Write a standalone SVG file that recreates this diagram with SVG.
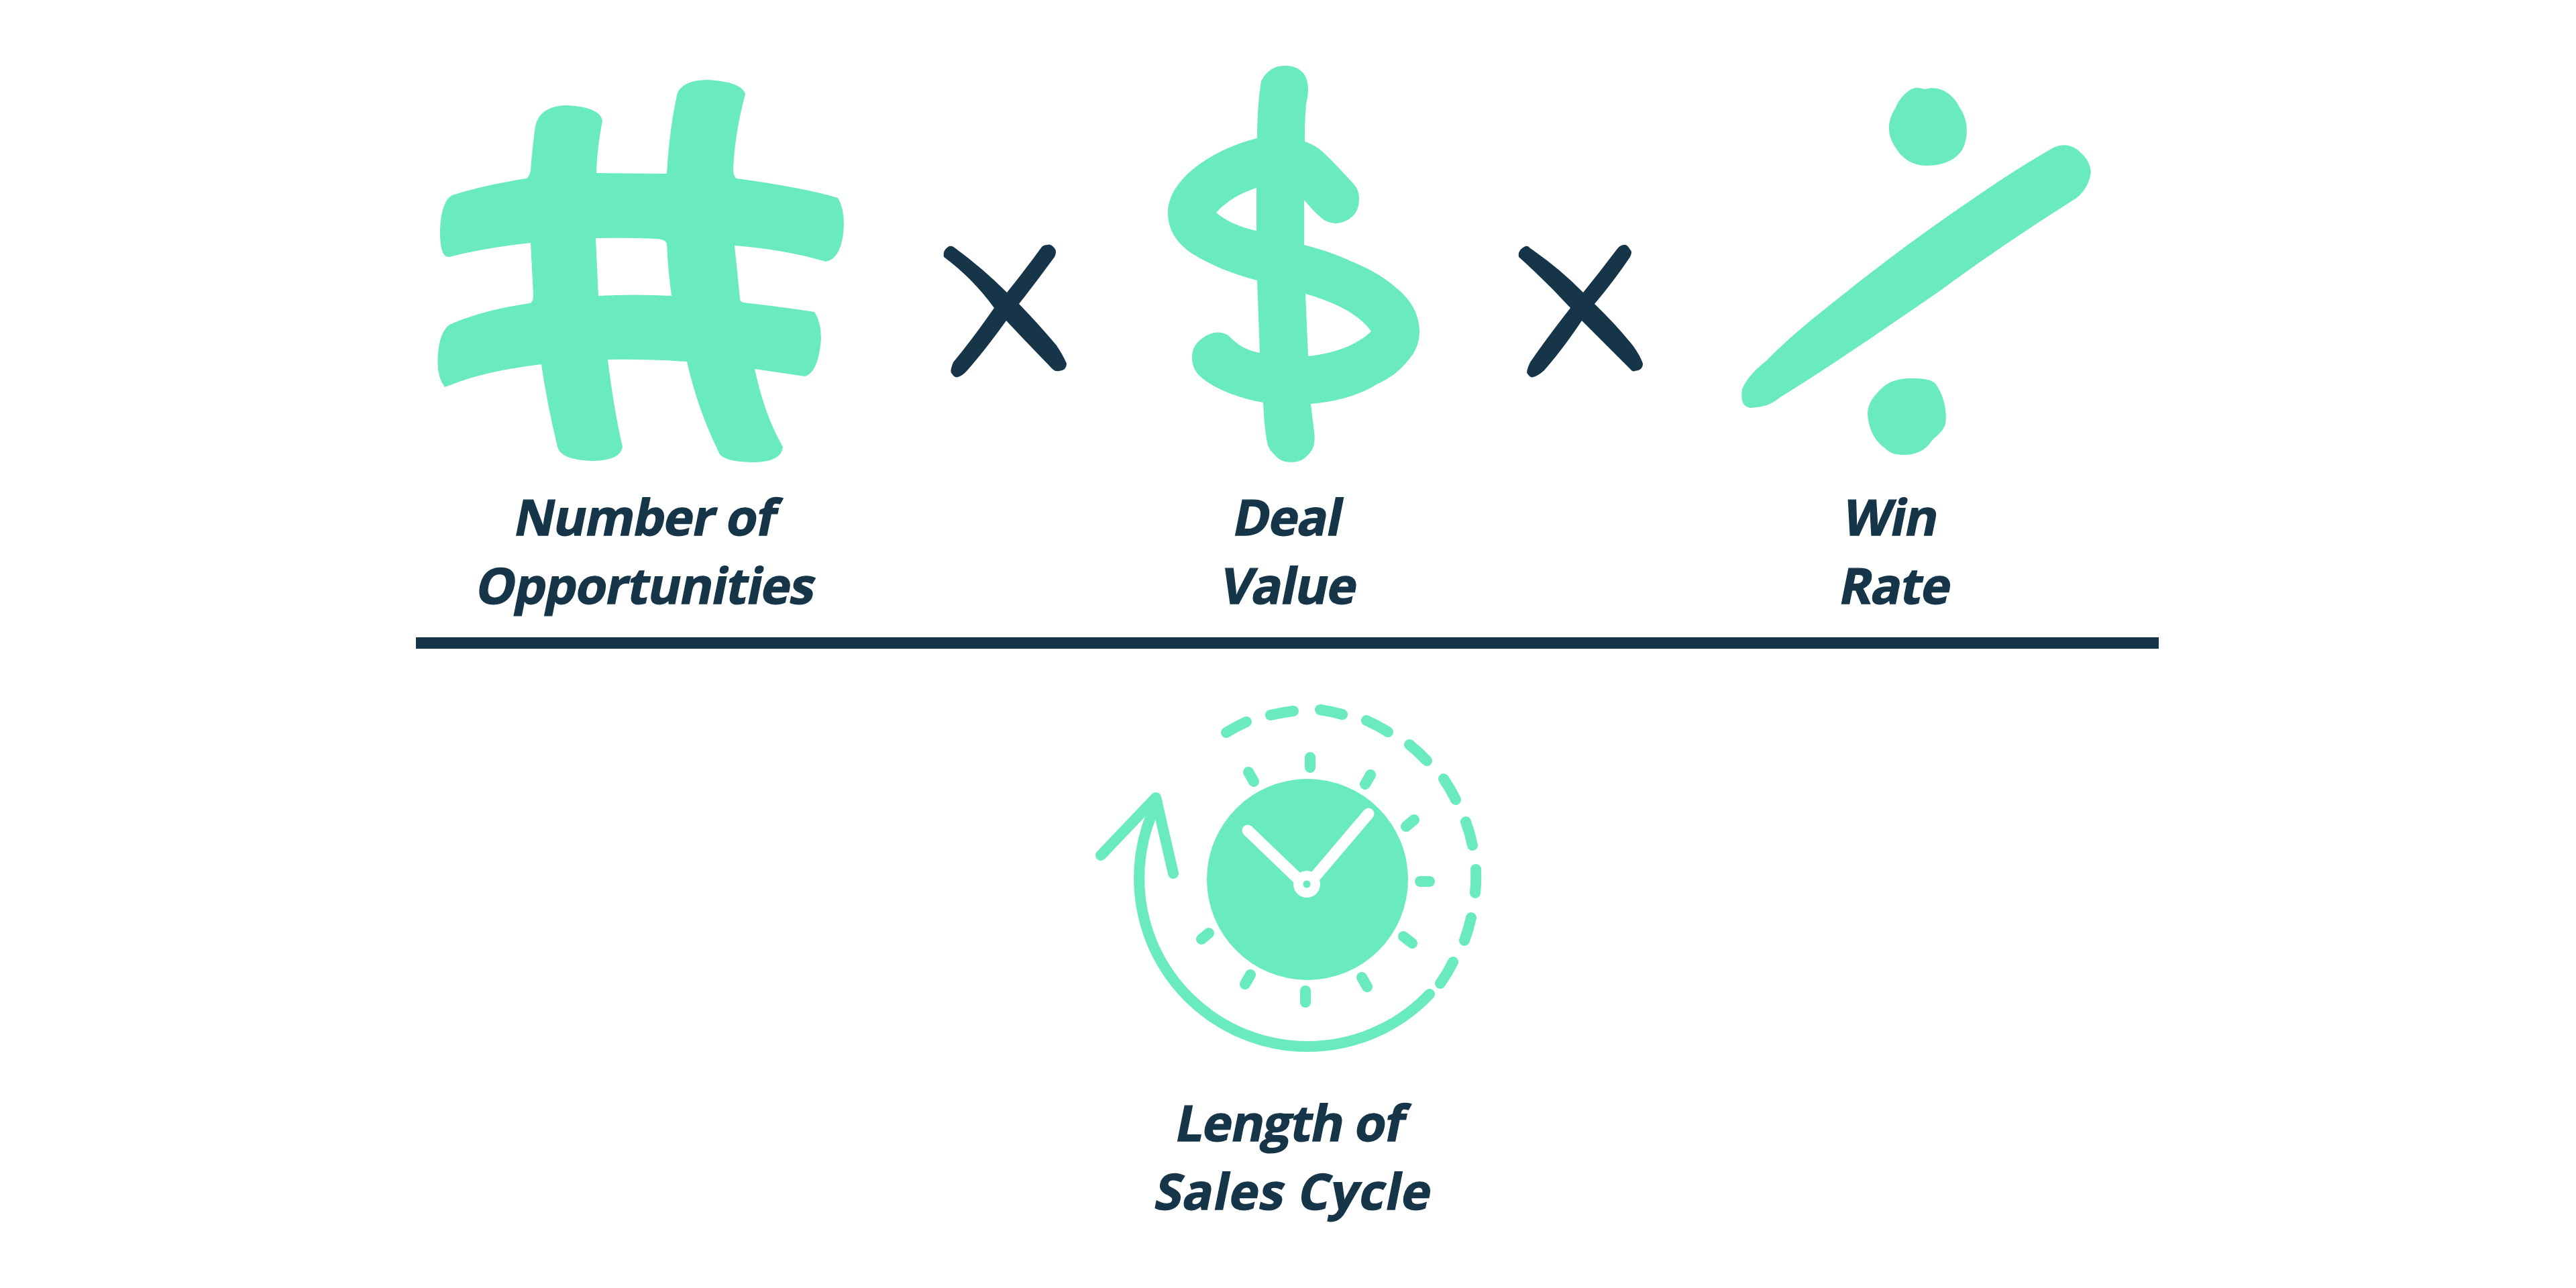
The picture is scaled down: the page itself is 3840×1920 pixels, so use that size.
<svg xmlns="http://www.w3.org/2000/svg" width="3840" height="1920" viewBox="0 0 3840 1920">
<style>
.t{fill:#6AEBBE}
.n{fill:#163549}
.l{font-family:"Open Sans",sans-serif;font-weight:700;font-size:74px;letter-spacing:-1.2px;fill:#163549;stroke:#163549;stroke-width:1.4px;text-anchor:middle}
.s{fill:none;stroke:#6AEBBE;stroke-width:16;stroke-linecap:round;stroke-linejoin:round}
.h{fill:none;stroke:#fff;stroke-width:17;stroke-linecap:round}
</style>
<rect width="3840" height="1920" fill="#fff"/>
<g id="hash"><path class="t" fill-rule="evenodd" d="M798 188Q805 157 846 157Q895 160 898 180Q890 220 889 258L994 259Q998 190 1010 138Q1020 119 1056 119Q1105 122 1111 140Q1095 200 1093 254Q1094 264 1098 266Q1200 280 1249 295Q1258 310 1258 335Q1256 385 1231 390Q1170 372 1095 366L1103 445Q1103 450 1108 451Q1170 458 1214 465Q1224 480 1224 505Q1220 555 1200 561L1125 550Q1140 620 1167 666Q1165 690 1119 689Q1075 688 1071 673Q1040 610 1024 539Q960 535 906 536Q915 610 928 666Q925 687 881 687Q835 685 831 666Q815 600 807 543Q725 553 674 573L663 577Q650 560 653 528Q655 495 670 484Q720 462 790 452Q795 450 795 440L791 362Q720 370 670 383Q655 385 656 341Q658 300 674 291Q720 276 785 266Q790 262 791 254Q794 215 798 188ZM888 355Q940 354 979 356Q993 357 994 364Q996 405 1001 441Q945 438 892 441Z"/></g>
<g id="times-1"><path class="n" d="M1415 367Q1405 372 1407 383Q1450 415 1482 459Q1450 505 1421 540Q1415 555 1419 557Q1423 564 1428 562Q1435 560 1442 552Q1470 520 1500 478Q1530 510 1565 546Q1572 555 1579 553Q1590 552 1590 542Q1585 530 1575 515Q1550 485 1519 453Q1545 420 1572 383Q1576 375 1572 370Q1566 363 1561 365Q1556 365 1553 368Q1530 400 1501 436Q1465 400 1424 370Q1420 366 1415 367Z"/></g>
<g id="dollar"><path class="t" fill-rule="evenodd" d="M1916 98C1935 98 1945 108 1948 119C1952 135 1949 145 1947 155C1945 180 1945 195 1945 211C1958 216 1965 220 1970 225C1985 238 2000 255 2013 269C2022 278 2026 285 2026 296C2026 312 2020 320 2013 325C1998 336 1982 335 1970 325C1960 317 1952 307 1944 298L1944 365C1970 372 1995 380 2013 389C2045 402 2065 415 2080 428C2105 448 2116 470 2116 495C2116 510 2110 525 2100 536C2088 552 2072 564 2052 573C2025 590 1990 599 1954 602L1959 644C1961 660 1958 670 1951 677C1943 686 1935 689 1925 689C1915 689 1907 686 1901 679C1895 673 1890 667 1889 660C1885 640 1884 620 1883 600C1865 597 1848 592 1832 586C1815 579 1800 571 1789 561C1780 552 1777 543 1777 532C1777 518 1784 510 1794 503C1806 494 1820 493 1831 500C1845 515 1860 523 1878 526L1874 418C1835 408 1800 393 1774 376C1752 360 1741 340 1741 318C1741 295 1753 275 1774 256C1800 233 1835 216 1874 206C1874 175 1876 145 1880 121C1888 105 1900 98 1916 98ZM1873 280C1848 288 1828 300 1813 317C1828 330 1850 339 1873 344ZM1946 438L1950 531C1990 527 2025 513 2044 494C2028 470 1990 450 1946 438Z"/></g>
<g id="times-2"><path class="n" d="M2274 367Q2262 372 2264 383Q2305 420 2341 459Q2305 505 2281 540Q2274 555 2277 557Q2281 564 2286 562Q2293 560 2302 552Q2330 520 2358 478Q2395 515 2430 550Q2434 555 2437 553Q2449 552 2449 542Q2445 530 2434 515Q2410 485 2377 453Q2405 420 2430 383Q2434 375 2430 372Q2425 363 2420 365Q2414 366 2410 372Q2385 405 2360 436Q2325 400 2281 370Q2278 366 2274 367Z"/></g>
<g id="percent"><path class="t" d="M2826 160C2832 145 2848 129 2860 131L2870 133C2890 126 2912 140 2921 160C2932 175 2934 195 2930 210C2925 235 2900 247 2872 247C2850 247 2835 235 2827 222C2815 205 2810 185 2826 160Z"/><path class="t" d="M2807 577C2820 566 2835 564 2850 564C2870 564 2880 566 2886 573C2898 590 2903 615 2900 632C2896 645 2885 650 2879 658C2870 672 2855 678 2840 678C2825 678 2818 676 2810 668C2790 655 2784 630 2784 615C2785 600 2795 588 2807 577Z"/><path class="t" d="M3056 223C3073 212 3090 215 3102 228C3116 240 3118 255 3116 262C3112 278 3105 288 3094 296C3020 343 2955 387 2894 432C2810 490 2730 545 2654 592C2640 603 2632 606 2611 608C2600 608 2594 600 2597 580C2605 562 2618 550 2635 536C2670 500 2705 473 2740 445C2790 405 2840 367 2894 329C2950 290 3000 255 3056 223Z"/></g>
<rect id="bar" class="n" x="620" y="950" width="2598" height="17"/>
<g id="clock">
<circle class="t" cx="1949" cy="1311" r="150"/>
<path class="h" d="M1860 1238L1935 1310M2040 1213L1961 1306"/>
<circle cx="1948" cy="1318" r="20" fill="#fff"/><circle class="t" cx="1948" cy="1318" r="5.5"/>
<path class="s" d="M1953 1129V1144M1861 1151L1869 1165M2043 1155L2035 1169M2108 1222L2096 1232M2117 1314H2131M2092 1396L2105 1406M2030 1457L2038 1471M1946 1477V1494M1864 1453L1856 1467M1802 1391L1791 1400"/>
<path class="s" d="M1828 1092A251 251 0 0 1 1858 1076M1894 1066A251 251 0 0 1 1928 1060M1968 1058A251 251 0 0 1 2001 1065M2037 1074A251 251 0 0 1 2069 1091M2101 1110A251 251 0 0 1 2127 1134M2152 1161A251 251 0 0 1 2170 1192M2185 1225A251 251 0 0 1 2195 1260M2200 1296A251 251 0 0 1 2199 1331M2193 1368A251 251 0 0 1 2183 1402M2166 1434A251 251 0 0 1 2147 1466"/>
<path class="s" d="M2131 1482A251 251 0 0 1 1725 1196"/>
<path class="s" d="M1641 1275L1723 1189L1749 1302"/>
</g>
<g id="labels">
<g transform="matrix(1 0 -0.2 1 0 0)">
<text x="1117" y="798" class="l">Number of</text>
<text x="1138" y="900" class="l">Opportunities</text>
<text x="2075" y="798" class="l">Deal</text>
<text x="2097" y="900" class="l">Value</text>
<text x="2974" y="798" class="l">Win</text>
<text x="3001" y="900" class="l">Rate</text>
<text x="2259" y="1701" class="l">Length of</text>
<text x="2285" y="1803" class="l" style="letter-spacing:1px">Sales Cycle</text>
</g></g>
</svg>
